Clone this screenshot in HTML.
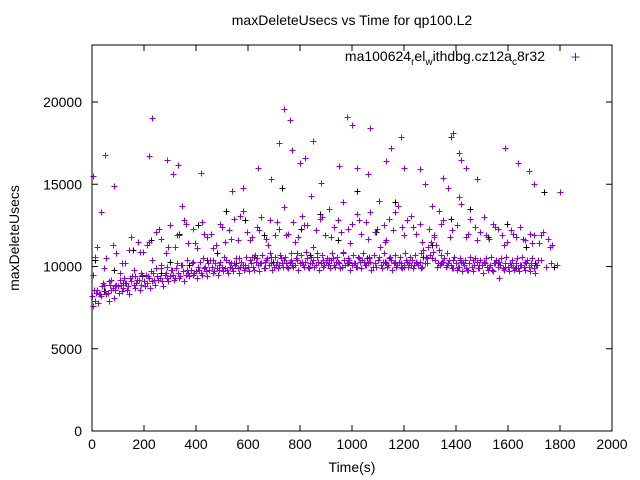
<!DOCTYPE html>
<html><head><meta charset="utf-8"><style>
body{margin:0;background:#fff}
svg{display:block;font-family:"Liberation Sans",sans-serif}
</style></head><body>
<svg id="chart" width="640" height="480" viewBox="0 0 640 480" xmlns="http://www.w3.org/2000/svg">
<rect width="640" height="480" fill="#fff"/>
<text x="352" y="25" font-size="14" text-anchor="middle">maxDeleteUsecs vs Time for qp100.L2</text>
<text x="352" y="472" font-size="14" text-anchor="middle">Time(s)</text>
<text x="19" y="238" font-size="14" text-anchor="middle" transform="rotate(-90 19 238)">maxDeleteUsecs</text>
<g id="axes"></g>
<g id="marks"></g>
<rect x="92" y="45" width="520" height="386" fill="none" stroke="#000" stroke-width="1"/>
<text x="545" y="61" font-size="14" text-anchor="end">ma100624<tspan font-size="10" dy="4">r</tspan><tspan dy="-4">el</tspan><tspan font-size="10" dy="4">w</tspan><tspan dy="-4">ithdbg.cz12a</tspan><tspan font-size="10" dy="4">c</tspan><tspan dy="-4">8r32</tspan></text>
<path d="M571.5 57h8M575.5 53v8" stroke="#9400d3" stroke-width="1"/>
</svg>
<script>
const xTicks=[0,200,400,600,800,1000,1200,1400,1600,1800,2000];
const yTicks=[0,5000,10000,15000,20000];
const bandValues=[8200,7900,8600,8300,8800,8500,8400,8900,8700,8600,8800,
8900,8700,9000,8800,9100,8900,9000,9200,8900,9100,
9000,9300,9100,9200,9400,9300,9100,9500,9300,9400,
9500,9300,9600,9400,9700,9500,9600,9800,9500,9700,
9800,9600,9900,9700,9800,10000,9700,9900,9800,10000,
9900,9800,10000,9900,10100,9900,10000,10100,9900,10000,
10200,10000,10300,10100,10200,9900,10400,10100,10200,10000,
10300,10100,10200,10400,10000,10300,10200,10100,10400,10200,
10100,10300,10000,10200,10400,10100,10300,10200,10000,10300,
10200,10400,10100,10300,10200,10000,10400,10200,10300,10100,
10200,10000,10300,10400,10100,10200,10300,10000,10200,10400,
10100,10300,10200,10100,10400,10200,10000,10300,10200,10100,
10300,10200,10400,10100,10200,10300,10000,10200,10500,10700,
10900,10400,10200,10100,10300,10000,10200,10100,9900,10200,
10000,10300,10100,9900,10200,10000,10100,10300,9900,10100,
10200,10000,10100,9800,10200,10000,10100,9900,10200,10000,
10100,10000,10200,9900,10100,10000,10200,10000,10100,9900,10100];
const bandValues3=[7600,8400,7800,8200,9000,8300,7900,8600,8100,8900,8400,
8500,9300,8600,8300,9400,8700,9200,8600,9500,8800,
9400,8700,9600,8900,9200,9900,8800,9600,9100,9800,
9200,9900,9300,10100,9100,9800,9400,10200,9600,9300,
10300,9500,10000,9400,10400,9600,10200,9500,10300,9700,
10400,9600,10200,9700,10500,9600,10300,9800,10600,9700,
10600,9800,10500,9700,10700,9900,10500,10800,9800,10600,
9900,10700,10000,10600,9900,10800,10000,10500,9800,10700,
10000,10900,9900,10600,10000,10800,9800,10700,10100,10500,
9900,10800,10000,10600,9900,10900,10100,10500,9800,10700,
10000,10600,9900,10800,10100,10500,9800,10700,10000,10600,
9900,10800,10000,10500,9800,10700,10100,10600,9900,10800,
10000,10600,9900,10700,10100,10800,11000,10600,11200,11500,
11800,11300,11000,10700,10500,10800,10400,9900,10600,9800,
10500,9700,10400,9800,10600,9700,10500,9900,10400,9600,
10500,9800,10600,9700,10400,9300,10500,9800,10600,9700,
10400,9800,10500,9700,10600,9800,10400,9700,10500,9600,10400];
const bandValues2=[8600,8300,8900,9100,8800,9200,9000,9300,9400,9600,9500,9700,9900,10100,10000,9800,10200,10100,10400,10300,10000,10500,10200,10400,10100,10600,10300,10200,10500,10100,10400,10700,10200,10300,10600,10100,10500,10200,10400,10800,10300,10500,10200,10600,10400,10100,10500,10300,10800,10400,10200,10500,10300,10600,10200,11200,11500,10600,10300,10000,10400,10100,10300,9900,10200,10500,10000,10300,10100,10400,10000,10200,9800,10400,10100,10300,10000,10200,10300,10000,10200,9900,10100,10300,10200,10100,10400,10000,10200,10100];
const upperValues=[9500,11200,8800,10500,9200,10800,9600,10200,11000,9800,11500,10900,11300,10400,12100,11700,10800,12500,11200,11900,12800,11400,12300,11100,12700,11800,12000,11300,12600,11500,12200,12900,11600,13400,12100,11800,12400,13000,11700,12800,11900,12300,13600,12000,12700,11800,13100,12500,14300,12200,12900,11900,13500,12400,12800,13900,12300,12600,13200,12000,12700,13300,12100,14000,12500,12900,12200,13700,12400,12800,13100,12000,12600,15000,12300,11900,13400,12800,14800,12200,12500,13800,11800,12900,12400,12100,13000,11700,12600,12300,11900,11500,12200,11800,12400,11600,12000,11900,11400,12100,11700,11300];
const upperValues2=[10600,9900,11300,10200,11800,10900,11500,12300,11200,11900,12600,11400,12000,11100,12400,11700,13100,11600,12200,11300,12700,11900,11500,12500,11200,13000,11800,12100,11400,12800,11700,12300,11600,13300,11900,12400,11500,13700,12600,11800,14200,12000,11600,11900,12400,11300,12000,11700,11400,11900,11200];
const outlierValues=[15500,16800,14900,13300,16700,19000,16500,15600,16200,13700,15700,14600,14800,16000,15300,17500,19600,18900,17100,16300,16600,17600,15100,16100,19100,18600,16000,15600,18400,16400,17200,17900,16000,15900,15400,17900,18100,16900,16500,16000,15300,17200,16300,15800,15000,14500];
const outlierTimes=[5,50,85,35,220,230,290,310,330,345,420,540,580,640,690,720,740,760,770,800,820,850,880,950,980,1000,1020,1060,1070,1130,1150,1190,1200,1260,1350,1380,1390,1410,1420,1440,1480,1590,1640,1680,1700,1800];
const blackValues=[10400,8500,9800,9000,11000,9400,11600,9600,10300,12000,10100,12500,10400,10800,13400,10200,12800,10600,11900,10300,14800,10100,12300,10700,13200,10400,11600,10200,14600,10500,12100,10300,13900,10000,12400,10600,11300,10200,12900,10400,13500,10100,11800,10300,12600,9900,11200,10200,14500,10000];
const sx=v=>92+v*520/2000;
const sy=v=>431-v*(431-102)/20000;
const NS="http://www.w3.org/2000/svg";
const axes=document.getElementById('axes');
const marks=document.getElementById('marks');
xTicks.forEach(t=>{
 const x=sx(t);
 const p=document.createElementNS(NS,'path');
 
 
 p.setAttribute('d',`M${x} 431v-6M${x} 45v6`);p.setAttribute('stroke','#000');axes.appendChild(p);
 const tx=document.createElementNS(NS,'text');
 
 
 tx.setAttribute('x',x);tx.setAttribute('y',449);tx.setAttribute('font-size','14');tx.setAttribute('text-anchor','middle');tx.textContent=t;axes.appendChild(tx);
});
yTicks.forEach(t=>{
 const y=sy(t);
 const p=document.createElementNS(NS,'path');
 
 
 p.setAttribute('d',`M92 ${y}h6M612 ${y}h-6`);p.setAttribute('stroke','#000');axes.appendChild(p);
 const tx=document.createElementNS(NS,'text');
 
 
 tx.setAttribute('x',82);tx.setAttribute('y',y+5);tx.setAttribute('font-size','14');tx.setAttribute('text-anchor','end');tx.textContent=t;axes.appendChild(tx);
});
function plus(t,v,c,name){
 const x=Math.round(sx(t))+0.5,y=Math.round(sy(v))+0.5;
 const p=document.createElementNS(NS,'path');
 
 
 p.setAttribute('d',`M${x-3} ${y}h6M${x} ${y-3}v6`);p.setAttribute('stroke',c);p.setAttribute('stroke-width','1');marks.appendChild(p);
}
blackValues.forEach((v,i)=>plus(12+i*36,v,'#000','black-point'));
bandValues.forEach((v,i)=>plus(i*10,v,'#9400d3','point'));
bandValues3.forEach((v,i)=>plus(4+i*10,v,'#9400d3','point'));
bandValues2.forEach((v,i)=>plus(7+i*20,v,'#9400d3','point'));
upperValues.forEach((v,i)=>plus(3+i*17.5,v,'#9400d3','point'));
upperValues2.forEach((v,i)=>plus(11+i*35,v,'#9400d3','point'));
outlierValues.forEach((v,i)=>plus(outlierTimes[i],v,'#9400d3','outlier-point'));
</script>
</body></html>
